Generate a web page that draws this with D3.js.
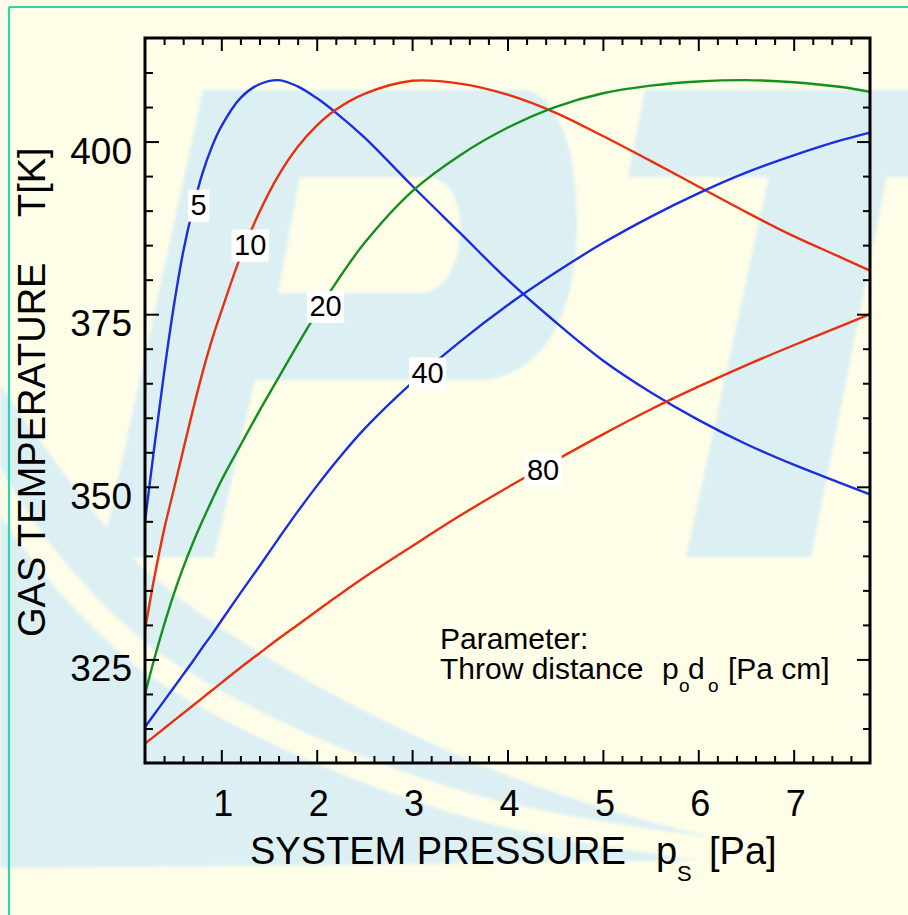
<!DOCTYPE html>
<html>
<head>
<meta charset="utf-8">
<script src="https://cdn.jsdelivr.net/npm/d3@7"></script>
<style>
  html, body { margin: 0; padding: 0; background: #fefde8; }
  svg { display: block; }
  text { font-family: "Liberation Sans", Arial, Helvetica, sans-serif; fill: #000; }
</style>
</head>
<body>
<svg id="chart" width="908" height="915"></svg>
<script>
// System pressure grid (Pa) shared by every curve
const pressure = [0.2, 0.3, 0.4, 0.5, 0.6, 0.7, 0.8, 0.9, 1.0, 1.2, 1.4, 1.6, 1.8, 2.0, 2.2, 2.5,
                  3.0, 3.5, 4.0, 4.5, 5.0, 5.5, 6.0, 6.5, 7.0, 7.5, 7.8];

// Gas temperature (K) for each throw distance p0*d0 (Pa cm)
const temp5  = [345.0, 356.0, 366.5, 376.0, 384.0, 390.2, 395.3, 399.2, 402.2, 406.3, 408.3, 408.9, 408.0, 406.3, 404.2, 400.6,
                393.6, 386.8, 380.0, 373.9, 368.3, 363.7, 359.7, 356.2, 353.2, 350.5, 348.9];
const temp10 = [329.3, 337.0, 343.8, 349.5, 355.3, 361.0, 366.4, 371.2, 375.4, 383.3, 389.8, 395.1, 399.2, 402.3, 404.6, 406.9,
                408.8, 408.4, 406.8, 404.2, 400.8, 397.2, 393.5, 389.8, 386.3, 383.2, 381.3];
const temp20 = [320.0, 325.2, 330.0, 334.4, 338.3, 341.8, 345.0, 348.0, 350.9, 356.0, 361.0, 365.8, 370.6, 375.2, 379.5, 385.3,
                392.8, 398.0, 402.0, 405.0, 407.0, 408.1, 408.7, 408.9, 408.6, 407.9, 407.2];
const temp40 = [315.2, 317.1, 319.0, 320.9, 322.8, 324.7, 326.7, 328.6, 330.6, 334.6, 338.5, 342.5, 346.4, 350.1, 353.6, 358.4,
                365.1, 371.0, 376.3, 381.0, 385.3, 389.1, 392.5, 395.5, 398.0, 400.2, 401.3];
const temp80 = [312.8, 313.9, 315.0, 316.1, 317.2, 318.3, 319.4, 320.5, 321.6, 323.8, 325.9, 328.0, 330.0, 332.0, 334.0, 336.9,
                341.4, 345.8, 349.9, 353.8, 357.6, 361.2, 364.5, 367.6, 370.5, 373.3, 375.0];

const throwDistance = ["5", "10", "20", "40", "80"];
const curveColors   = ["#1a2ee0", "#e8300e", "#14901e", "#1a2ee0", "#e8300e"];
const labelPressure = [0.71, 1.25, 2.04, 3.11, 4.32];   // where each curve carries its label

const xTickValues = [1, 2, 3, 4, 5, 6, 7];
const yTickValues = [325, 350, 375, 400];

const svg = d3.select("#chart");
const W = 908, H = 915;
const plot = { left: 145, right: 870, top: 38, bottom: 763 };

const x = d3.scaleLinear().domain([0.2, 7.8]).range([plot.left, plot.right]);
const y = d3.scaleLinear().domain([310, 415]).range([plot.bottom, plot.top]);

const cream = "#fefde8";
const washBlue = "#dcf0f4";

// ---------- page background and frame ----------
svg.append("rect").attr("width", W).attr("height", H).attr("fill", cream);

// soft logo watermark behind the chart
const defs = svg.append("defs");
defs.append("filter").attr("id", "soft").attr("x", "-5%").attr("y", "-5%").attr("width", "110%").attr("height", "110%")
  .append("feGaussianBlur").attr("stdDeviation", 1.6);
const wm = svg.append("g").attr("filter", "url(#soft)");
// swoosh
wm.append("path").attr("fill", washBlue)
  .attr("d", "M0,385 C40,440 90,515 145,570 C220,635 330,700 480,765 C600,812 700,838 800,853 L800,858 C600,862 300,866 0,868 Z");
wm.append("path").attr("fill", "none").attr("stroke", cream).attr("stroke-width", 24)
  .attr("d", "M-10,475 C30,545 80,605 145,658 C230,717 360,777 500,814 C620,840 720,852 810,858");
// letter P
wm.append("path").attr("fill", washBlue)
  .attr("d", "M203,90 L521,90 C562,92 578,160 577,227 C576,320 540,380 475,380 L255,380 L214,557 L101,557 Z");
wm.append("path").attr("fill", cream)
  .attr("d", "M300,177 L425,177 C452,177 462,205 460,235 C458,268 444,293 418,293 L278,293 Z");
// letter T
wm.append("path").attr("fill", washBlue).attr("d", "M645,90 L920,90 L920,177 L628,177 Z");
wm.append("path").attr("fill", washBlue).attr("d", "M769,176 L887,176 L811,557 L686,557 Z");

// teal page border
svg.append("line").attr("x1", 9).attr("y1", 7).attr("x2", W).attr("y2", 7)
  .attr("stroke", "#2ed5b2").attr("stroke-width", 2.2);
svg.append("line").attr("x1", 9).attr("y1", 7).attr("x2", 9).attr("y2", H)
  .attr("stroke", "#2ed5b2").attr("stroke-width", 2.2);

// ---------- curves ----------
const series = [temp5, temp10, temp20, temp40, temp80].map((vals, i) => ({
  name: throwDistance[i],
  color: curveColors[i],
  at: labelPressure[i],
  points: pressure.map((p, j) => ({ p, t: vals[j] }))
}));

const line = d3.line().x(d => x(d.p)).y(d => y(d.t)).curve(d3.curveCatmullRom.alpha(0.5));

const curves = svg.append("g");
series.forEach(s => {
  curves.append("path").datum(s.points)
    .attr("fill", "none").attr("stroke", s.color).attr("stroke-width", 2.4)
    .attr("stroke-linejoin", "round").attr("d", line);
});

// curve labels on white tags
const interp = (pts, p) => {
  const i = d3.bisector(d => d.p).right(pts, p);
  const a = pts[Math.max(0, i - 1)], b = pts[Math.min(pts.length - 1, i)];
  const f = b.p === a.p ? 0 : (p - a.p) / (b.p - a.p);
  return a.t + f * (b.t - a.t);
};
const tags = svg.append("g");
series.forEach(s => {
  const cx = x(s.at) + 5, cy = y(interp(s.points, s.at));
  const g = tags.append("g").attr("transform", `translate(${cx},${cy})`);
  const rect = g.append("rect").attr("fill", "#fff");
  const txt = g.append("text").attr("text-anchor", "middle").attr("y", 9.5)
    .attr("font-size", 29).text(s.name);
  const w = txt.node().getComputedTextLength() + 5;
  rect.attr("x", -w / 2).attr("y", -16).attr("width", w).attr("height", 32);
});

// ---------- axes ----------
const minorX = x.ticks(38).filter(v => v > 0.21 && v < 7.79 && Math.abs(v - Math.round(v)) > 1e-6);
const minorY = y.ticks(21).filter(v => v > 310 && v < 415 && v % 25 !== 0);

function styleAxis(g) {
  g.select(".domain").remove();
  g.selectAll(".tick line").attr("stroke", "#000").attr("stroke-width", 2);
}

// bottom
svg.append("g").attr("transform", `translate(0,${plot.bottom})`)
  .call(d3.axisBottom(x).tickValues(minorX).tickSize(-7).tickFormat(""))
  .call(styleAxis).selectAll("text").remove();
const bottomMajor = svg.append("g").attr("transform", `translate(0,${plot.bottom})`)
  .call(d3.axisBottom(x).tickValues(xTickValues).tickSize(-13).tickFormat(d3.format("d")))
  .call(styleAxis);
bottomMajor.attr("font-family", null).attr("font-size", null);
bottomMajor.selectAll("text").attr("y", 53).attr("dy", null).attr("dx", 1.5)
  .attr("font-size", 36).attr("fill", "#000");

// top
svg.append("g").attr("transform", `translate(0,${plot.top})`)
  .call(d3.axisTop(x).tickValues(minorX).tickSize(-7).tickFormat(""))
  .call(styleAxis).selectAll("text").remove();
svg.append("g").attr("transform", `translate(0,${plot.top})`)
  .call(d3.axisTop(x).tickValues(xTickValues).tickSize(-13).tickFormat(""))
  .call(styleAxis).selectAll("text").remove();

// left
svg.append("g").attr("transform", `translate(${plot.left},0)`)
  .call(d3.axisLeft(y).tickValues(minorY).tickSize(-8).tickFormat(""))
  .call(styleAxis).selectAll("text").remove();
const leftMajor = svg.append("g").attr("transform", `translate(${plot.left},0)`)
  .call(d3.axisLeft(y).tickValues(yTickValues).tickSize(-14).tickPadding(13).tickFormat(d3.format("d")))
  .call(styleAxis);
leftMajor.attr("font-family", null).attr("font-size", null);
leftMajor.selectAll("text").attr("dy", 21.5).attr("font-size", 37).attr("fill", "#000");

// right
svg.append("g").attr("transform", `translate(${plot.right},0)`)
  .call(d3.axisRight(y).tickValues(minorY).tickSize(-7).tickFormat(""))
  .call(styleAxis).selectAll("text").remove();
svg.append("g").attr("transform", `translate(${plot.right},0)`)
  .call(d3.axisRight(y).tickValues(yTickValues).tickSize(-13).tickFormat(""))
  .call(styleAxis).selectAll("text").remove();

// plot frame
svg.append("rect")
  .attr("x", plot.left).attr("y", plot.top)
  .attr("width", plot.right - plot.left).attr("height", plot.bottom - plot.top)
  .attr("fill", "none").attr("stroke", "#000").attr("stroke-width", 3);

// ---------- axis titles ----------
const xt = svg.append("g");
xt.append("text").attr("x", 250).attr("y", 864).attr("font-size", 38).text("SYSTEM PRESSURE");
xt.append("text").attr("x", 656).attr("y", 864).attr("font-size", 38).text("p");
xt.append("text").attr("x", 677).attr("y", 881).attr("font-size", 22).text("S");
xt.append("text").attr("x", 709).attr("y", 864).attr("font-size", 38).text("[Pa]");

svg.append("text").attr("transform", "translate(45,637) rotate(-90)")
  .attr("font-size", 38).text("GAS TEMPERATURE");
svg.append("text").attr("transform", "translate(45,217) rotate(-90)")
  .attr("font-size", 38).text("T[K]");

// ---------- parameter note ----------
const note = svg.append("g");
note.append("text").attr("x", 440).attr("y", 649).attr("font-size", 30).text("Parameter:");
note.append("text").attr("x", 440).attr("y", 679).attr("font-size", 30).text("Throw distance");
note.append("text").attr("x", 662).attr("y", 679).attr("font-size", 30).text("p");
note.append("text").attr("x", 679).attr("y", 692).attr("font-size", 19).text("o");
note.append("text").attr("x", 688).attr("y", 679).attr("font-size", 30).text("d");
note.append("text").attr("x", 708).attr("y", 692).attr("font-size", 19).text("o");
note.append("text").attr("x", 728).attr("y", 679).attr("font-size", 30).text("[Pa cm]");
</script>
</body>
</html>
